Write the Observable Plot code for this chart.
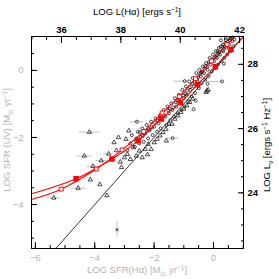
<!DOCTYPE html>
<html><head><meta charset="utf-8">
<script src="https://cdn.jsdelivr.net/npm/d3@7"></script>
<script src="https://cdn.jsdelivr.net/npm/@observablehq/plot@0.6"></script>
<style>body{margin:0;background:#fff} svg{display:block}</style>
</head><body><div id="chart"></div>
<script>
// ---- data (LOG SFR(Hα), LOG SFR(UV)) ----
const circleX = [-2.9,-2.8,-2.75,-2.65,-2.6,-2.55,-2.5,-2.45,-2.4,-2.35,-2.3,-2.25,-2.2,-2.15,-2.1,-2.05,-2.0,-1.95,-1.9,-1.85,-1.8,-1.78,-1.72,-1.68,-1.62,-1.58,-1.55,-1.5,-1.45,-1.42,-1.38,-1.33,-1.3,-1.25,-1.2,-1.17,-1.12,-1.08,-1.05,-1.0,-0.97,-0.93,-0.9,-0.85,-0.82,-0.78,-0.74,-0.7,-0.66,-0.62,-0.58,-0.55,-0.5,-0.47,-0.43,-0.4,-0.36,-0.32,-0.28,-0.25,-0.2,-0.17,-0.13,-0.1,-0.06,-0.02,0.02,0.05,0.08,0.12,0.15,0.18,0.22,0.25,0.27,0.3,0.33,0.36,0.4,0.43,0.46,0.5,0.53,0.57,0.6,0.63,0.67,0.7,0.14,-0.41,-0.27,0.32,-0.97,0.29,-0.67,-2.58,-1.38];
const circleY = [-2.38,-2.18,-1.93,-2.28,-2.03,-1.83,-2.18,-1.98,-1.73,-2.13,-1.88,-1.63,-2.03,-1.78,-1.53,-1.93,-1.68,-1.43,-1.83,-1.58,-1.33,-1.73,-1.48,-1.18,-1.38,-1.63,-1.08,-1.28,-1.48,-0.98,-1.18,-1.38,-0.83,-1.08,-1.28,-0.73,-0.98,-1.18,-0.58,-0.83,-1.08,-0.48,-0.73,-0.93,-0.33,-0.58,-0.78,-0.23,-0.48,-0.68,-0.08,-0.33,-0.53,0.02,-0.18,-0.38,0.12,-0.08,-0.28,0.22,0.02,-0.18,0.37,0.17,-0.03,0.47,0.27,0.07,0.57,0.37,0.17,0.67,0.47,0.9,0.27,0.72,0.57,0.37,0.82,0.67,0.47,0.97,0.77,0.57,0.95,0.87,0.72,0.92,0.57,-0.05,0.13,0.77,-0.32,-0.33,-1.16,-1.53,-2.02];
const circleX2 = [-2.62,-2.48,-2.38,-2.28,-2.18,-2.08,-1.98,-1.88,-1.76,-1.66,-1.52,-1.47,-1.36,-1.27,-1.22,-1.14,-1.02,-0.95,-0.88,-0.8,-0.72,-0.64,-0.56,-0.52,-0.45,-0.38,-0.3,-0.22,-0.15,-0.08,0.0,0.07,0.1,0.17,0.2,0.24,0.31,0.38,0.42,0.48,0.55,0.58,0.65,-0.6,-0.2,0.35];
const circleY2 = [-2.1,-1.85,-1.95,-1.8,-1.75,-1.7,-1.55,-1.5,-1.45,-1.35,-1.2,-1.15,-1.1,-0.95,-0.9,-0.9,-0.75,-0.7,-0.6,-0.5,-0.4,-0.35,-0.25,-0.2,-0.1,-0.05,0.05,0.1,0.25,0.3,0.35,0.4,0.45,0.5,0.55,0.7,0.6,0.7,0.9,0.85,0.9,0.95,0.98,-0.9,-0.4,0.2];
const triX = [-5.38,-4.56,-4.35,-4.18,-4.15,-4.06,-3.83,-3.78,-3.59,-3.53,-3.27,-3.14,-3.1,-1.59,-2.22,-0.22,-0.25,-0.18,-3.0,-2.9,-2.8,-2.7,-2.6,-2.5,-2.4,-2.3,-2.2,-2.1,-2.0,-1.9,-1.8,-1.7,-1.6,-1.5,-1.4,-1.3,-1.2,-1.1,-1.0,-0.9,-0.8,-0.7,-3.35,-3.2,-2.95,-2.85];
const triY = [-3.8,-3.51,-2.55,-1.84,-3.26,-2.86,-3.4,-2.69,-3.73,-2.49,-2.39,-2.73,-2.89,-2.1,-2.51,-0.61,-0.65,-0.58,-2.6,-2.5,-2.65,-2.3,-2.55,-2.4,-2.6,-2.35,-2.2,-2.35,-2.15,-2.05,-1.95,-1.85,-1.75,-1.6,-1.6,-1.45,-1.35,-1.25,-1.15,-1.05,-0.95,-0.85,-2.15,-2.0,-2.05,-1.8];
const crossX = [-3.25];
const crossY = [-4.75];
// horizontal error bars (gray)
const hErrY  = [-1.84,-2.55,-3.8,-3.51,-2.86,-0.32,-0.33,-2.02,-2.69,-1.53,-2.49];
const hErrX1 = [-4.53,-4.6,-5.6,-4.8,-4.25,-1.35,-0.22,-1.6,-3.95,-2.8,-3.7];
const hErrX2 = [-3.83,-4.1,-5.15,-4.3,-3.85,-0.85,0.3,-1.15,-3.6,-2.35,-3.35];
// vertical error bars (gray)
const vErrX  = [-3.25];
const vErrY1 = [-4.97];
const vErrY2 = [-4.5];
// red binned relations
const openSqX = [-5.13,-3.95,-3.08,-2.35,-1.73,-1.15,-0.61,-0.07,0.455];
const openSqY = [-3.54,-2.94,-2.37,-1.82,-1.27,-0.78,-0.25,0.28,0.77];
const fillSqX = [-4.63,-3.42,-2.54,-1.77,-1.12,-0.54,0.06,0.59];
const fillSqY = [-3.23,-2.64,-2.10,-1.45,-0.96,-0.42,0.11,0.62];
const openEndsX = [-6.13,0.75];
const openEndsY = [-3.85,1.05];
const fillEndsX = [-6.13,1.02];
const fillEndsY = [-3.68,1.01];
const unityX = [-6.13,1.01];
// axes
const xMajor = [-6,-4,-2,0];
const xMinor = [-6,-5.5,-5,-4.5,-4,-3.5,-3,-2.5,-2,-1.5,-1,-0.5,0,0.5,1];
const yMajor = [0,-2,-4];
const yMinor = [1,0.5,0,-0.5,-1,-1.5,-2,-2.5,-3,-3.5,-4,-4.5,-5];
const topMajor = [36,38,40,42];
const topMinor = [35,35.5,36,36.5,37,37.5,38,38.5,39,39.5,40,40.5,41,41.5,42];
const haOffset = 41.12;             // LOG L(Hα) = LOG SFR + offset
const rightMajor = [28,26,24];
const rightMinor = [22.5,23,23.5,24,24.5,25,25.5,26,26.5,27,27.5,28,28.5];
const lnuRef = [28,24], lnuAtSfr = [0.18,-3.65];  // Lν labels vs SFR(UV) position
const titles = {
  bottom: [["LOG SFR(Hα) [M"],["⊙","sub"],[" yr"],["−1","sup"],["]"]],
  left:   [["LOG SFR (UV) [M"],["⊙","sub"],[" yr"],["−1","sup"],["]"]],
  top:    [["LOG L(Hα) [ergs s"],["−1","sup"],["]"]],
  right:  [["LOG L"],["ν","sub"],[" [ergs s"],["−1","sup"],[" Hz"],["−1","sup"],["]"]]
};

const allCY = circleY.concat(circleY2);
const circles = circleX.concat(circleX2).map((x,i)=>({x, y: allCY[i]}));
const tris = triX.map((x,i)=>({x, y: triY[i]}));
const crosses = crossX.map((x,i)=>({x, y: crossY[i]}));
const hErr = hErrY.map((y,i)=>({y, x1: hErrX1[i], x2: hErrX2[i]}));
const vErr = vErrX.map((x,i)=>({x, y1: vErrY1[i], y2: vErrY2[i]}));
const openSq = openSqX.map((x,i)=>({x, y: openSqY[i]}));
const fillSq = fillSqX.map((x,i)=>({x, y: fillSqY[i]}));
const openLine = [{x: openEndsX[0], y: openEndsY[0]}, ...openSq, {x: openEndsX[1], y: openEndsY[1]}];
const fillLine = [{x: fillEndsX[0], y: fillEndsY[0]}, ...fillSq, {x: fillEndsX[1], y: fillEndsY[1]}];
const unity = unityX.map(v => ({x: v, y: v}));
const lnuToSfr = l => lnuAtSfr[1] + (l - lnuRef[1]) * (lnuAtSfr[0]-lnuAtSfr[1])/(lnuRef[0]-lnuRef[1]);
const fmt = d => String(d).replace("-", "−");
const gray = "#b4b4b4";

const plot = Plot.plot({
  width: 279, height: 279,
  marginLeft: 31, marginRight: 36, marginTop: 36, marginBottom: 31,
  style: {fontFamily: "Liberation Sans, Arial, sans-serif", fontSize: "9.5px", background: "#fff"},
  x: {domain: [-6.13, 1.01], label: null},
  y: {domain: [-5.31, 1.01], label: null},
  marks: [
    Plot.line(unity, {x:"x", y:"y", stroke:"black", strokeWidth:0.8, clip:true}),
    Plot.ruleY(hErr, {y:"y", x1:"x1", x2:"x2", stroke:gray, strokeWidth:0.8}),
    Plot.ruleX(vErr, {x:"x", y1:"y1", y2:"y2", stroke:gray, strokeWidth:0.8}),
    Plot.dot(circles, {x:"x", y:"y", r:1.5, stroke:"black", strokeWidth:0.7, fill:"none"}),
    Plot.dot(tris, {x:"x", y:"y", symbol:"triangle", r:1.6, stroke:"black", strokeWidth:0.7, fill:"none"}),
    Plot.dot(crosses, {x:"x", y:"y", symbol:"times", r:1.5, stroke:"black", strokeWidth:0.8}),
    Plot.line(openLine, {x:"x", y:"y", curve:"catmull-rom", stroke:"#ff0000", strokeWidth:1.1, clip:true}),
    Plot.line(fillLine, {x:"x", y:"y", curve:"catmull-rom", stroke:"#ff0000", strokeWidth:1.1, clip:true}),
    Plot.dot(openSq, {x:"x", y:"y", symbol:"square", r:2.2, stroke:"#ff0000", strokeWidth:1, fill:"white"}),
    Plot.dot(fillSq, {x:"x", y:"y", symbol:"square", r:2.2, stroke:"#ff0000", fill:"#ff0000"}),
    // bottom axis
    Plot.axisX({anchor:"bottom", ticks:xMinor, tickSize:-3, tickFormat:()=>"", label:null}),
    Plot.axisX({anchor:"bottom", ticks:xMajor, tickSize:-6, tickPadding:12, tickFormat:fmt, fill:gray, label:null}),
    // left axis
    Plot.axisY({anchor:"left", ticks:yMinor, tickSize:-3, tickFormat:()=>"", label:null}),
    Plot.axisY({anchor:"left", ticks:yMajor, tickSize:-6, tickPadding:14, tickFormat:fmt, fill:gray, label:null}),
    // top axis (LOG L(Hα))
    Plot.axisX({anchor:"top", ticks:topMinor.map(l => l - haOffset), tickSize:-3, tickFormat:()=>"", label:null}),
    Plot.axisX({anchor:"top", ticks:topMajor.map(l => l - haOffset), tickSize:-6, tickPadding:10, tickFormat:d => String(Math.round(d + haOffset)), fill:"black", fontWeight:"bold", label:null}),
    // right axis (LOG Lν)
    Plot.axisY({anchor:"right", ticks:rightMinor.map(lnuToSfr), tickSize:-3, tickFormat:()=>"", label:null}),
    Plot.axisY({anchor:"right", ticks:rightMajor.map(lnuToSfr), tickSize:-6, tickPadding:10, tickFormat:(d,i)=>String(rightMajor[i]), fill:"black", fontWeight:"bold", label:null}),
    Plot.frame({stroke:"black", strokeWidth:1})
  ]
});
document.getElementById("chart").appendChild(plot);

// axis titles with sub/superscripts
const svg = d3.select(plot);
function addTitle(parts, x, y, rotate, color) {
  const t = svg.append("text")
    .attr("transform", `translate(${x},${y}) rotate(${rotate})`)
    .attr("text-anchor", "middle")
    .attr("fill", color)
    .style("font-family", "Liberation Sans, Arial, sans-serif")
    .style("font-size", "9.5px");
  let shift = 0;
  for (const [s, kind] of parts) {
    const sp = t.append("tspan").text(s);
    let target = kind === "sup" ? -3.5 : kind === "sub" ? 2.5 : 0;
    sp.attr("dy", target - shift);
    shift = target;
    if (kind) sp.style("font-size", "6.5px");
  }
}
addTitle(titles.bottom, 137, 273, 0, gray);
addTitle(titles.top, 137, 15, 0, "black");
addTitle(titles.left, 10, 140, -90, gray);
addTitle(titles.right, 270, 145, -90, "black");
</script>
</body></html>
